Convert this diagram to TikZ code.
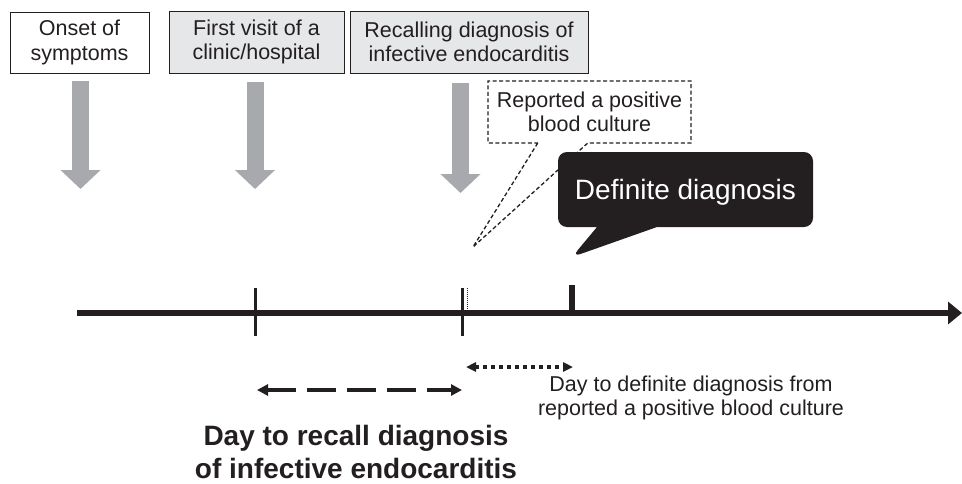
\documentclass[tikz,border=0pt]{standalone}
\usepackage{fontspec}
\setmainfont{Liberation Sans}
\usetikzlibrary{arrows.meta,shapes.callouts}
\definecolor{inkblack}{RGB}{35,31,32}
\definecolor{boxgray}{RGB}{230,231,232}
\definecolor{arrowgray}{RGB}{167,169,172}

\begin{document}
\begin{tikzpicture}[x=1pt,y=-1pt,%[scale]
  evtbox/.style={draw=inkblack, line width=0.9pt, inner sep=0pt, align=center, text=inkblack, font=\fontsize{21.5}{24.5}\selectfont},
  downarr/.style={arrowgray, line width=17pt, -{Triangle[width=39pt,length=19pt]}},
  ticmark/.style={inkblack, line width=3pt},
  lbl/.style={text=inkblack, inner sep=0pt, align=center}]

\useasboundingbox (0,0) rectangle (962,483);

\node [evtbox, fill=white, minimum width=139pt, minimum height=61pt] (onset) at (79.5,42.5) {Onset of\\symptoms};
\node [evtbox, fill=boxgray, minimum width=175pt, minimum height=62pt] (visit) at (256.5,42) {First visit of a\\clinic/hospital};
\node [evtbox, fill=boxgray, minimum width=238pt, minimum height=62pt] (recall) at (469,42) {Recalling diagnosis of\\infective endocarditis};

\coordinate (a1) at (80.5,81);
\coordinate (b1) at (80.5,189);
\coordinate (a2) at (255,82);
\coordinate (b2) at (255,189);
\coordinate (a3) at (460.5,83);
\coordinate (b3) at (460.5,193);
\draw [downarr] (a1) -- (b1);
\draw [downarr] (a2) -- (b2);
\draw [downarr] (a3) -- (b3);

\coordinate (cultpt) at (473,247);
\node [rectangle callout, draw=inkblack, line width=1.3pt, dash pattern=on 4pt off 2.5pt, fill=white,
  callout absolute pointer=(cultpt), callout pointer width=50pt,
  minimum width=203pt, minimum height=62pt, lbl, font=\fontsize{21.5}{23.5}\selectfont] (culture) at (589.5,112) {Reported a positive\\blood culture};

\coordinate (defpt) at (572,257);
\node [rectangle callout, fill=inkblack, rounded corners=9pt,
  callout absolute pointer=(defpt), callout pointer width=60pt,
  minimum width=255pt, minimum height=75pt, inner sep=0pt, text=white, text depth=0pt,
  font=\fontsize{28}{32}\selectfont] (definite) at (685.5,189.5) {Definite diagnosis};

% time line
\coordinate (tstart) at (77,313);
\coordinate (tend) at (962,313);
\draw [inkblack, line width=6.5pt, -{Triangle[width=22pt,length=14pt]}] (tstart) -- (tend);

\draw [ticmark] (255,288) -- (255,336);
\draw [ticmark] (462,288) -- (462,336);
\draw [inkblack, line width=0.9pt, dash pattern=on 1pt off 1pt] (467,288) -- (467,313);
\draw [ticmark, line width=5.5pt] (572,285) -- (572,313);

\coordinate (rs) at (257,390);
\coordinate (re) at (462,390);
\draw [inkblack, line width=3.5pt, dash pattern=on 29pt off 11pt, {Triangle[width=11pt,length=11pt]}-{Triangle[width=11pt,length=11pt]}] (rs) -- (re);

\coordinate (ds) at (466,367);
\coordinate (de) at (573,367);
\draw [inkblack, line width=3.5pt, dash pattern=on 3.5pt off 4.5pt, {Triangle[width=9pt,length=10pt]}-{Triangle[width=9pt,length=10pt]}] (ds) -- (de);

\node [lbl, font=\fontsize{21.5}{23.5}\selectfont] (bclabel) at (691,398) {Day to definite diagnosis from\\reported a positive blood culture};
\node [lbl, font=\bfseries\fontsize{28}{33}\selectfont] (reclabel) at (356,451.5) {Day to recall diagnosis\\of infective endocarditis};
\end{tikzpicture}
\end{document}
